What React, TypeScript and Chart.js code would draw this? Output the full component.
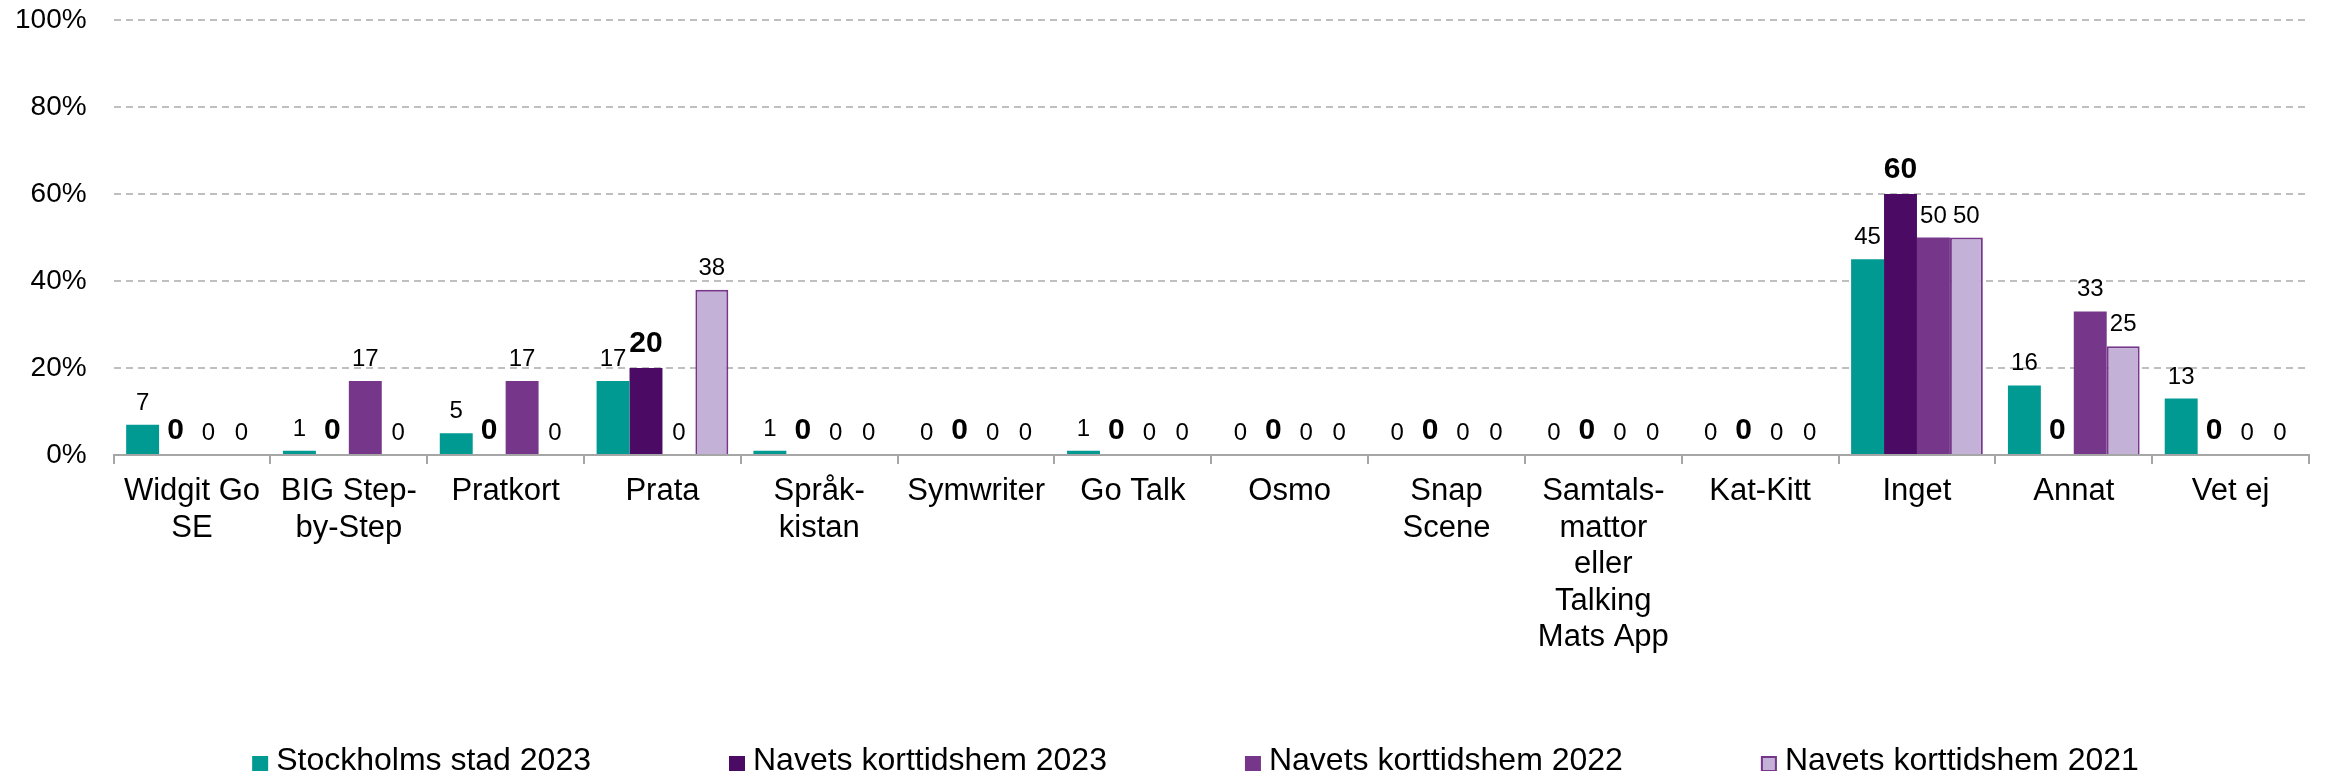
import React, { useEffect, useRef } from "react";
import { Chart, registerables } from "chart.js";

Chart.register(...registerables);

const categories: (string | string[])[] = [
  ["Widgit Go", "SE"],
  ["BIG Step-", "by-Step"],
  "Pratkort",
  "Prata",
  ["Språk-", "kistan"],
  "Symwriter",
  "Go Talk",
  "Osmo",
  ["Snap", "Scene"],
  ["Samtals-", "mattor", "eller", "Talking", "Mats App"],
  "Kat-Kitt",
  "Inget",
  "Annat",
  "Vet ej",
];

const stockholm2023 = [7, 1, 5, 17, 1, 0, 1, 0, 0, 0, 0, 45, 16, 13];
const navets2023 = [0, 0, 0, 20, 0, 0, 0, 0, 0, 0, 0, 60, 0, 0];
const navets2022 = [0, 17, 17, 0, 0, 0, 0, 0, 0, 0, 0, 50, 33, 0];
const navets2021 = [0, 0, 0, 38, 0, 0, 0, 0, 0, 0, 0, 50, 25, 0];

const seriesLabels = [
  "Stockholms stad 2023",
  "Navets korttidshem 2023",
  "Navets korttidshem 2022",
  "Navets korttidshem 2021",
];

const yTicks = [0, 20, 40, 60, 80, 100];

const FONT = '"Liberation Sans", Arial, sans-serif';
const COLORS = ["#009A93", "#4B0A64", "#763689", "#C3B1D8"];
const BORDERS = ["#009A93", "#4B0A64", "#763689", "#763689"];

const dataLabelPlugin = {
  id: "dataLabels",
  afterDatasetsDraw(chart: any) {
    const ctx = chart.ctx;
    ctx.save();
    ctx.fillStyle = "#000";
    ctx.textAlign = "center";
    ctx.textBaseline = "alphabetic";
    chart.data.datasets.forEach((ds: any, di: number) => {
      const meta = chart.getDatasetMeta(di);
      meta.data.forEach((el: any, i: number) => {
        const v = ds.data[i];
        const bold = di === 1;
        ctx.font = bold ? `bold 30px ${FONT}` : `24px ${FONT}`;
        ctx.fillText(String(v), el.x, el.y - (bold ? 16 : 15));
      });
    });
    ctx.restore();
  },
};

const legendPlugin = {
  id: "customLegend",
  afterDraw(chart: any) {
    const ctx = chart.ctx;
    ctx.save();
    ctx.font = `32px ${FONT}`;
    const box = 16;
    const gap = 8;
    const spacing = 138;
    const items = chart.data.datasets.map((ds: any) => ({
      label: ds.label,
      fill: ds.backgroundColor,
      border: ds.legendBorder,
      w: ctx.measureText(ds.label).width,
    }));
    let total = 0;
    items.forEach((it: any, i: number) => {
      total += box + gap + it.w + (i < items.length - 1 ? spacing : 0);
    });
    let x = chart.width / 2 + 30 - total / 2;
    const cy = chart.height - 7;
    ctx.textBaseline = "middle";
    ctx.textAlign = "left";
    items.forEach((it: any) => {
      ctx.fillStyle = it.fill;
      ctx.fillRect(x, cy - box / 2, box, box);
      if (it.border) {
        ctx.strokeStyle = it.border;
        ctx.lineWidth = 2;
        ctx.strokeRect(x + 1, cy - box / 2 + 1, box - 2, box - 2);
      }
      ctx.fillStyle = "#000";
      ctx.fillText(it.label, x + box + gap, cy - 2.5);
      x += box + gap + it.w + spacing;
    });
    ctx.restore();
  },
};

export default function App() {
  const ref = useRef<HTMLCanvasElement | null>(null);

  useEffect(() => {
    if (!ref.current) return;
    const series = [stockholm2023, navets2023, navets2022, navets2021];
    const chart = new Chart(ref.current, {
      type: "bar",
      data: {
        labels: categories,
        datasets: series.map((d, i) => ({
          label: seriesLabels[i],
          data: d,
          backgroundColor: COLORS[i],
          borderColor: BORDERS[i],
          borderWidth: i === 3 ? (c: any) => (c.raw > 0 ? 2 : 0) : 0,
          legendBorder: i === 3 ? BORDERS[i] : null,
          categoryPercentage: 0.84,
          barPercentage: 1.0,
        })) as any,
      },
      options: {
        animation: false,
        responsive: true,
        maintainAspectRatio: false,
        layout: { padding: { left: 7, right: 14, top: 0, bottom: 106 } },
        plugins: {
          legend: { display: false },
          tooltip: { enabled: false },
        },
        scales: {
          x: {
            grid: {
              offset: true,
              drawOnChartArea: false,
              drawTicks: true,
              tickLength: 9,
              color: "#A6A6A6",
              lineWidth: 2,
            },
            border: { display: true, color: "#A6A6A6", width: 2 },
            ticks: {
              color: "#000",
              font: { family: FONT, size: 31, lineHeight: 1.18 },
              padding: 9,
              maxRotation: 0,
              autoSkip: false,
            },
          },
          y: {
            min: 0,
            max: 100,
            afterBuildTicks: (scale: any) => {
              scale.ticks = yTicks.map((v) => ({ value: v }));
            },
            grid: {
              drawTicks: true,
              tickLength: 27,
              tickColor: "rgba(0,0,0,0)",
              color: (c: any) => (c.tick && c.tick.value === 0 ? "rgba(0,0,0,0)" : "#BFBFBF"),
              lineWidth: 2,
            },
            border: { display: false, dash: [7, 5] },
            ticks: {
              color: "#000",
              font: { family: FONT, size: 28, lineHeight: 0.85 },
              padding: 0,
              callback: (v: any) => `${v}%`,
            },
          },
        },
      },
      plugins: [dataLabelPlugin, legendPlugin],
    });
    return () => chart.destroy();
  }, []);

  return (
    <div style={{ position: "relative", width: "100%", height: "763px" }}>
      <canvas ref={ref} />
    </div>
  );
}
